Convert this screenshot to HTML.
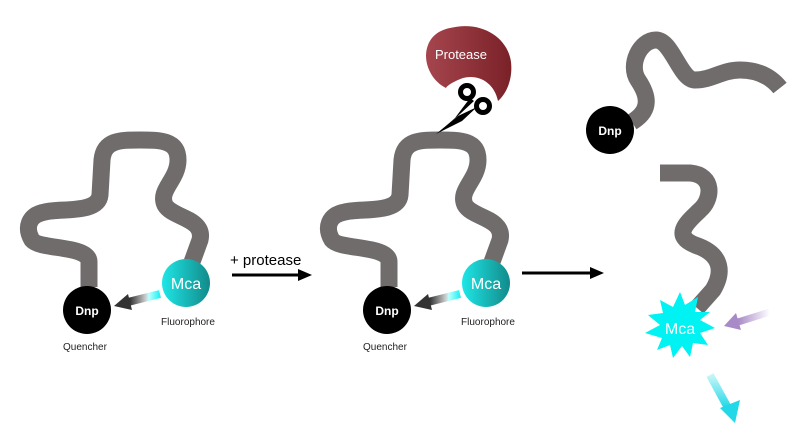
<!DOCTYPE html>
<html><head><meta charset="utf-8"><style>
body{margin:0;background:#fff}
svg{display:block;font-family:"Liberation Sans",sans-serif}
</style></head><body>
<svg width="806" height="439" viewBox="0 0 806 439" xmlns="http://www.w3.org/2000/svg">
<defs>
<linearGradient id="mca" x1="0" y1="0" x2="1" y2="0"><stop offset="0" stop-color="#1ee6e6"/><stop offset="1" stop-color="#128a8a"/></linearGradient>
<linearGradient id="q" x1="1" y1="0" x2="0" y2="0"><stop offset="0" stop-color="#20f0f0"/><stop offset="0.35" stop-color="#bff"/><stop offset="0.45" stop-color="#ccc"/><stop offset="1" stop-color="#222"/></linearGradient>
<linearGradient id="pr" x1="0" y1="0" x2="1" y2="0"><stop offset="0" stop-color="#a6454d"/><stop offset="1" stop-color="#7a2128"/></linearGradient>
<linearGradient id="pu" x1="1" y1="0" x2="0" y2="0"><stop offset="0" stop-color="#fff"/><stop offset="1" stop-color="#a98ac8"/></linearGradient>
<linearGradient id="cy" x1="0" y1="0" x2="0" y2="1"><stop offset="0" stop-color="#c8f6f8"/><stop offset="1" stop-color="#20d8e8"/></linearGradient>
<g id="mol">
<path d="M89,287 L89,262 C89,245 40,250 32,240 C25,228 28,215 45,212 C60,208 98,214 100,195 L102,160 C104,140 120,140 140,140 C160,140 178,140 178,160 C178,180 158,190 165,205 C172,218 205,218 200,240 L192,262" fill="none" stroke="#716c6c" stroke-width="17"/>
<circle cx="87" cy="310" r="24" fill="#000"/>
<text x="87" y="315" fill="#fff" font-size="12" font-weight="bold" text-anchor="middle">Dnp</text>
<circle cx="186" cy="283" r="24" fill="url(#mca)"/>
<text x="186" y="289" fill="#fff" font-size="16" text-anchor="middle">Mca</text>
<path d="M160,294 L128,302" stroke="url(#q)" stroke-width="8"/>
<polygon points="114,306 128,294 132,310" fill="#333"/>
<text x="85" y="350" fill="#222" font-size="10" text-anchor="middle">Quencher</text>
<text x="188" y="325" fill="#222" font-size="10" text-anchor="middle">Fluorophore</text>
</g>
</defs>
<use href="#mol"/>
<use href="#mol" x="300"/>
<text x="230" y="265" font-size="15" fill="#000">+ protease</text>
<line x1="232" y1="275" x2="300" y2="275" stroke="#000" stroke-width="3"/>
<polygon points="312,275 298,269 298,281" fill="#000"/>
<line x1="522" y1="273" x2="592" y2="273" stroke="#000" stroke-width="3"/>
<polygon points="604,273 590,267 590,279" fill="#000"/>
<path d="M450,28 C482,20 508,38 511,62 C513,80 506,94 498,101 C494,82 478,74 463,78 C452,82 447,86 446,88 C430,80 422,60 428,45 C432,35 440,30 450,28 Z" fill="url(#pr)"/>
<text x="461" y="59" fill="#fff" font-size="13" text-anchor="middle">Protease</text>
<g stroke="#000" fill="none" stroke-width="5">
<circle cx="467" cy="92" r="6.5"/>
<circle cx="483" cy="106" r="6.5"/>
</g>
<path d="M470,98 L455,118 L436,135 L460,114 L474,101 Z" fill="#000"/>
<path d="M477,107 L458,116 L436,134 L462,121 Z" fill="#000"/>
<path d="M632,122 C652,110 648,95 638,80 C628,65 640,40 656,40 C672,40 680,80 695,80 C712,80 722,70 740,70 C760,70 772,78 780,88" fill="none" stroke="#716c6c" stroke-width="17"/>
<circle cx="610" cy="130" r="24" fill="#000"/>
<text x="610" y="135" fill="#fff" font-size="12" font-weight="bold" text-anchor="middle">Dnp</text>
<path d="M660,173 L690,173 C715,175 712,200 700,210 C690,220 670,235 695,245 C725,255 722,275 713,290 L697,308" fill="none" stroke="#716c6c" stroke-width="17"/>
<polygon points="680,292 685,305 698,297 695,312 710,312 700,320 715,328 700,333 708,345 693,343 690,357 682,346 673,358 670,345 657,350 662,338 645,333 660,325 648,315 663,313 660,300 673,307" fill="#00f2f2"/>
<text x="680" y="334" fill="#fff" font-size="16" text-anchor="middle">Mca</text>
<path d="M770,312 L738,322" stroke="url(#pu)" stroke-width="7"/>
<polygon points="724,326 736,313 741,330" fill="#a98ac8"/>
<path d="M710,375 L728,408" stroke="url(#cy)" stroke-width="8"/>
<polygon points="735,423 720,408 740,400" fill="#20d8e8"/>
</svg>
</body></html>
